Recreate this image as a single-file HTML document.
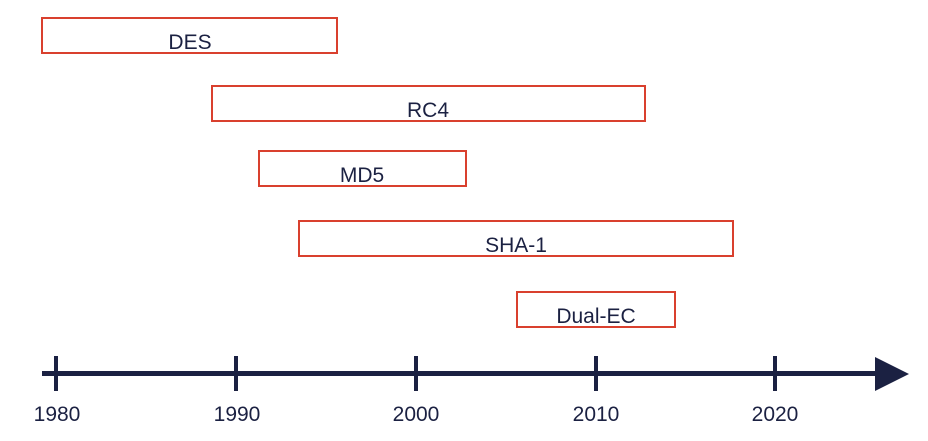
<!DOCTYPE html>
<html><head><style>body{margin:0;background:#fff}</style></head><body>
<svg width="928" height="436" xmlns="http://www.w3.org/2000/svg" font-family="Liberation Sans, sans-serif" font-size="21" fill="#1b2142">
<g fill="none" stroke="#d9402e" stroke-width="2">
<rect x="42" y="18" width="295" height="35"/>
<rect x="212" y="86" width="433" height="35"/>
<rect x="259" y="151" width="207" height="35"/>
<rect x="299" y="221" width="434" height="35"/>
<rect x="517" y="292" width="158" height="35"/>
</g>
<g text-anchor="middle">
<text x="190" y="49">DES</text>
<text x="428" y="117">RC4</text>
<text x="362" y="182">MD5</text>
<text x="516" y="252">SHA-1</text>
<text x="596" y="323">Dual-EC</text>
</g>
<g stroke="#1b2142">
<line x1="42" y1="373.5" x2="880" y2="373.5" stroke-width="5"/>
<g stroke-width="4">
<line x1="56" y1="356" x2="56" y2="391"/>
<line x1="236" y1="356" x2="236" y2="391"/>
<line x1="416" y1="356" x2="416" y2="391"/>
<line x1="596" y1="356" x2="596" y2="391"/>
<line x1="775" y1="356" x2="775" y2="391"/>
</g>
</g>
<polygon points="875,357 909,374 875,391" fill="#1b2142"/>
<g text-anchor="middle">
<text x="57" y="421">1980</text>
<text x="237" y="421">1990</text>
<text x="416" y="421">2000</text>
<text x="596" y="421">2010</text>
<text x="775" y="421">2020</text>
</g>
</svg>
</body></html>
